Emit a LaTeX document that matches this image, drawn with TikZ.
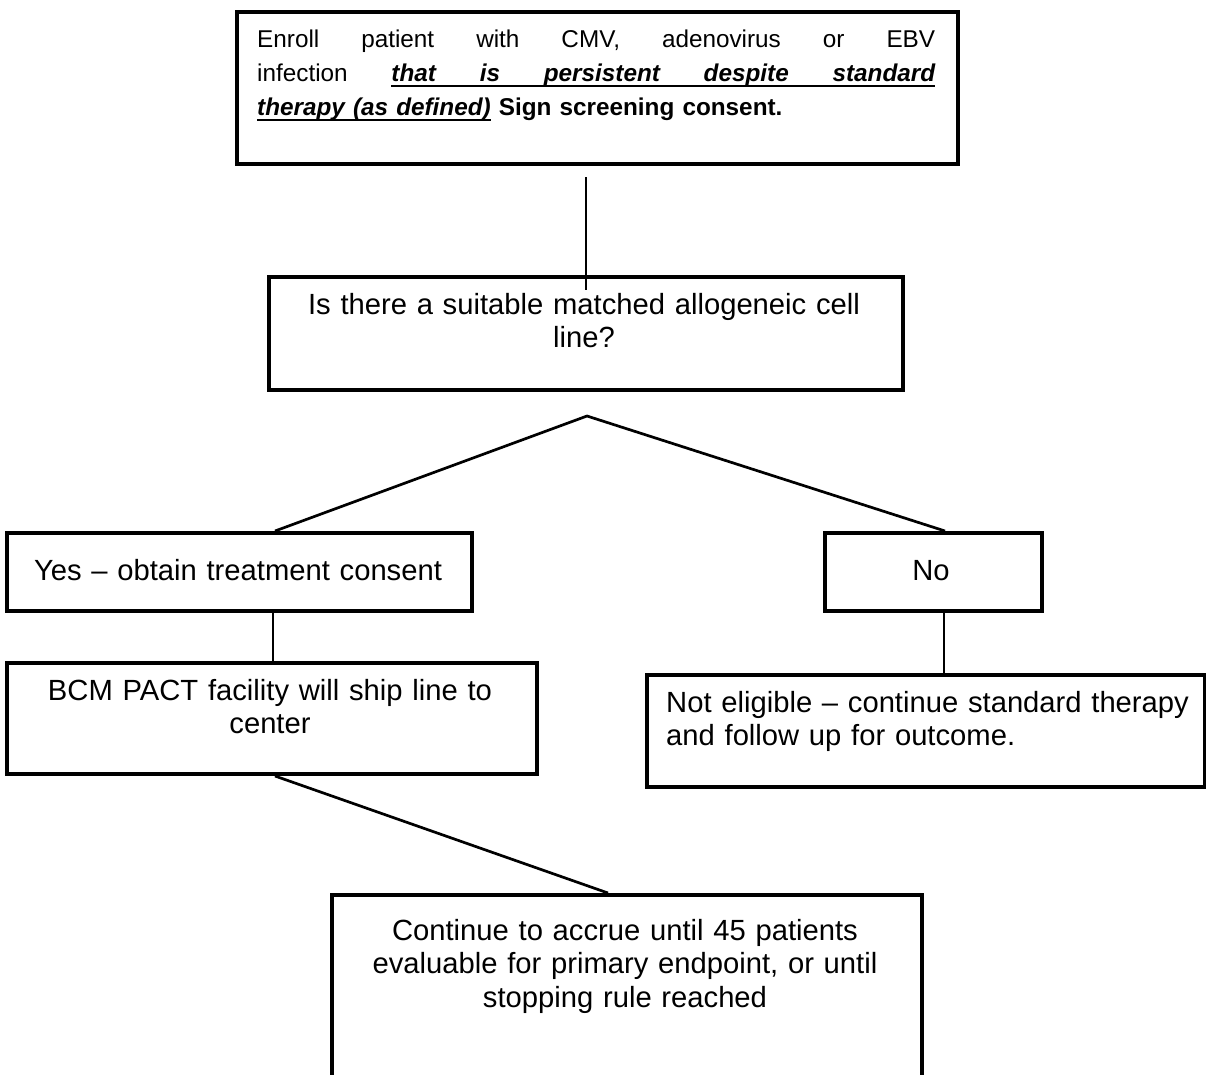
\documentclass[tikz,border=0pt]{standalone}
\usepackage{fontspec}
\setmainfont{Liberation Sans}
\usetikzlibrary{calc}

% underlined text, stretchable gaps for the justified lines
\newcommand\ulword[1]{\leavevmode\setbox0\hbox{#1}\rlap{\vrule height -3.5pt depth 6.2pt width \wd0}\box0}
\newcommand\jsp{\hskip 0.278em plus 1fill\relax}
\newcommand\ulgap{\leaders\hrule height -3.5pt depth 6.2pt\hskip 0.278em plus 1fill\relax}

\tikzset{
  stepbox/.style={draw, line width=4pt, inner sep=0pt, anchor=north west},
  link/.style={line width=2.7pt},
  boxtext/.style={inner sep=0pt, anchor=base, align=center, font=\fontsize{29.2}{33.5}\selectfont},
}

\begin{document}
\begin{tikzpicture}[x=1pt, y=-1pt]
\useasboundingbox (0,0) rectangle (1206,1074);

% boxes
\node[stepbox, minimum width=721, minimum height=152] (enroll) at (235,10) {};
\node[stepbox, minimum width=634, minimum height=113] (match) at (267,275) {};
\node[stepbox, minimum width=465, minimum height=78] (yes) at (5,531) {};
\node[stepbox, minimum width=217, minimum height=78] (no) at (823,531) {};
\node[stepbox, minimum width=530, minimum height=111] (ship) at (5,661) {};
\node[stepbox, minimum width=558, minimum height=112] (noelig) at (645,673) {};
\node[stepbox, minimum width=590, minimum height=260] (accrue) at (330,893) {};

% texts
\node[boxtext, anchor=base west, align=left, text width=678, font=\fontsize{24.3}{34}\selectfont] (enrolltxt) at (257,47)
  {\makebox[678pt][s]{Enroll\jsp patient\jsp with\jsp CMV,\jsp adenovirus\jsp or\jsp EBV}\\
   \makebox[678pt][s]{infection\jsp{\bfseries\itshape \ulword{that}\ulgap\ulword{is}\ulgap\ulword{persistent}\ulgap\ulword{despite}\ulgap\ulword{standard}}}\\
   {\bfseries\itshape\ulword{therapy (as defined)}} {\bfseries Sign screening consent.}};
\node[boxtext, text width=600] (matchtxt) at (584,314) {Is there a suitable matched allogeneic cell\\line?};
\node[boxtext, text width=450] (yestxt) at (238,580) {Yes – obtain treatment consent};
\node[boxtext, text width=200] (notxt) at (931,580) {No};
\node[boxtext, text width=500] (shiptxt) at (270,700) {BCM PACT facility will ship line to\\center};
\node[boxtext, anchor=base west, align=left, text width=530] (noeligtxt) at (666,712) {Not eligible – continue standard therapy\\and follow up for outcome.};
\node[boxtext, text width=560] (accruetxt) at (625,940) {Continue to accrue until 45 patients\\evaluable for primary endpoint, or until\\stopping rule reached};

% connectors
\draw[link] ($(match.north |- enroll.south)+(0,11)$) -- ($(match.north)+(0,15)$);
\coordinate (fork) at ($(match.south)+(1,24)$);
\draw[link] ($(yes.north west)+(270,0)$) -- (fork) -- ($(no.north west)+(122,0)$);
\draw[link] ($(yes.south west)+(268,0)$) coordinate (y1) -- (y1 |- ship.north);
\draw[link] ($(no.south west)+(121,0)$) coordinate (n1) -- (n1 |- noelig.north);
\draw[link] ($(ship.south west)+(270,0)$) -- ($(accrue.north west)+(278,0)$);

\end{tikzpicture}
\end{document}
